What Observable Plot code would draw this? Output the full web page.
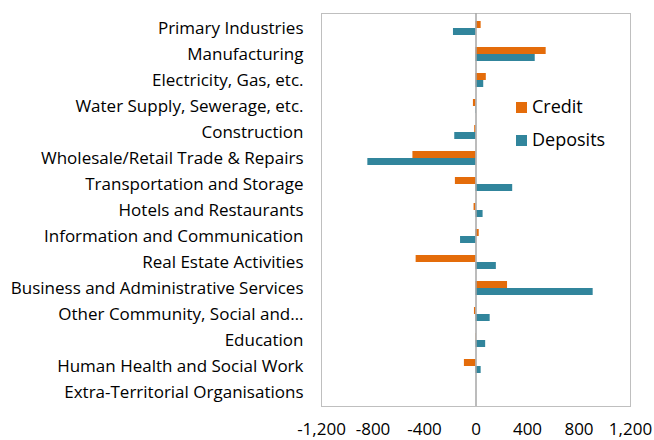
<!DOCTYPE html>
<html>
<head>
<meta charset="utf-8">
<script src="https://cdn.jsdelivr.net/npm/d3@7"></script>
<script src="https://cdn.jsdelivr.net/npm/@observablehq/plot@0.6"></script>
<style>
  body { margin: 0; background: #fff; }
  #wrap { position: relative; width: 654px; height: 440px; font-family: "Open Sans", "Noto Sans", sans-serif; }
  #legend { position: absolute; left: 516px; top: 90px; font-size: 18px; color: #000; line-height: 33px; white-space: nowrap; }
  #legend .sw { display: inline-block; width: 11px; height: 11px; margin-right: 5px; vertical-align: baseline; }
</style>
</head>
<body>
<div id="wrap"></div>
<script>
const industries = [
  "Primary Industries",
  "Manufacturing",
  "Electricity, Gas, etc.",
  "Water Supply, Sewerage, etc.",
  "Construction",
  "Wholesale/Retail Trade & Repairs",
  "Transportation and Storage",
  "Hotels and Restaurants",
  "Information and Communication",
  "Real Estate Activities",
  "Business and Administrative Services",
  "Other Community, Social and…",
  "Education",
  "Human Health and Social Work",
  "Extra-Territorial Organisations"
];
const credit   = [40, 545, 80, -20, -10, -490, -160, -15, 25, -465, 245, -12, 2, -90, 0];
const deposits = [-175, 460, 60, 3, -165, -840, 285, 55, -120, 158, 910, 110, 75, 40, 0];
const seriesNames = ["Credit", "Deposits"];
const seriesColors = ["#E46C0A", "#31859C"];
const xTicks = [-1200, -800, -400, 0, 400, 800, 1200];

const creditData = industries.map((name, i) => ({name, value: credit[i]}));
const depositData = industries.map((name, i) => ({name, value: deposits[i]}));
const fmt = d => d3.format(",")(d).replace("\u2212", "-");

const chart = Plot.plot({
  width: 654,
  height: 440,
  marginLeft: 321,
  marginRight: 24,
  marginTop: 13,
  marginBottom: 34,
  style: {fontFamily: "'Open Sans', 'Noto Sans', sans-serif", fontSize: "17px", color: "#000", background: "#fff"},
  x: {domain: [-1200, 1200], ticks: xTicks, tickFormat: fmt, label: null},
  y: {domain: industries, padding: 0, label: null},
  marks: [
    Plot.frame({stroke: "#BFBFBF"}),
    Plot.barX(creditData, {x: "value", y: "name", fill: seriesColors[0], insetTop: 6, insetBottom: 13}),
    Plot.barX(depositData, {x: "value", y: "name", fill: seriesColors[1], insetTop: 13, insetBottom: 6}),
    Plot.ruleX([0], {stroke: "#A6A6A6", strokeWidth: 1.5}),
    Plot.axisX({ticks: xTicks, tickFormat: fmt, tickSize: 0, tickPadding: 16, label: null, fontSize: 17}),
    Plot.axisY({tickSize: 0, tickPadding: 18, label: null, fontSize: 17})
  ]
});

const wrap = document.getElementById("wrap");
wrap.appendChild(chart);
const legend = document.createElement("div");
legend.id = "legend";
legend.innerHTML = seriesNames.map((s, i) =>
  `<div><span class="sw" style="background:${seriesColors[i]}"></span>${s}</div>`).join("");
wrap.appendChild(legend);
</script>
</body>
</html>
